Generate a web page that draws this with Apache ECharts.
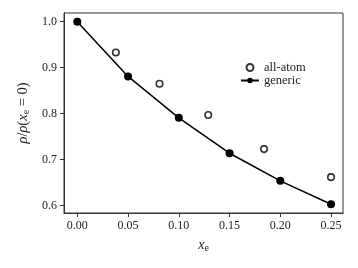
<!DOCTYPE html>
<html><head><meta charset="utf-8">
<script src="https://cdn.jsdelivr.net/npm/echarts@6/dist/echarts.min.js"></script>
<style>html,body{margin:0;padding:0;background:#fff}#c{width:358px;height:268px}</style>
</head><body><div id="c"></div>
<script>
const genericX = [0.00, 0.05, 0.10, 0.15, 0.20, 0.25];
const genericY = [1.000, 0.881, 0.791, 0.714, 0.654, 0.603];
const allAtomX = [0.038, 0.081, 0.129, 0.184, 0.250];
const allAtomY = [0.933, 0.865, 0.797, 0.723, 0.662];
const xTicks = [0.00, 0.05, 0.10, 0.15, 0.20, 0.25];
const yTicks = [0.6, 0.7, 0.8, 0.9, 1.0];

const F = 'Liberation Serif';
const chart = echarts.init(document.getElementById('c'), null, {renderer: 'canvas'});
chart.setOption({
  animation: false,
  backgroundColor: '#fff',
  grid: {left: 64, top: 13, right: 15, bottom: 55, show: true, borderColor: '#333', borderWidth: 1, backgroundColor: 'transparent'},
  xAxis: {
    type: 'value', min: -0.0131, max: 0.2618,
    axisLine: {show: true, onZero: false, lineStyle: {color: '#333', width: 1}},
    axisTick: {show: true, length: 4, lineStyle: {color: '#333'}, customValues: xTicks},
    axisLabel: {fontFamily: F, fontSize: 12, color: '#222', margin: 7, customValues: xTicks,
      formatter: v => v.toFixed(2)},
    splitLine: {show: false},
    name: '{i|x}{s|e}', nameLocation: 'middle', nameGap: 24,
    nameTextStyle: {rich: {
      i: {fontFamily: F, fontStyle: 'italic', fontSize: 14, color: '#222'},
      s: {fontFamily: F, fontSize: 10, color: '#222', verticalAlign: 'bottom', padding: [6, 0, 0, 0]}
    }}
  },
  yAxis: {
    type: 'value', min: 0.584, max: 1.019,
    axisLine: {show: true, onZero: false, lineStyle: {color: '#333', width: 1}},
    axisTick: {show: true, length: 4, lineStyle: {color: '#333'}, customValues: yTicks},
    axisLabel: {fontFamily: F, fontSize: 12, color: '#222', margin: 7, customValues: yTicks,
      formatter: v => v.toFixed(1)},
    splitLine: {show: false},
    name: '{i|ρ}{n|/}{i|ρ}{n|(}{i|x}{s|e}{n| = 0)}', nameLocation: 'middle', nameGap: 31, nameRotate: 90,
    nameTextStyle: {rich: {
      i: {fontFamily: F, fontStyle: 'italic', fontSize: 14.5, color: '#222'},
      n: {fontFamily: F, fontSize: 14.5, color: '#222'},
      s: {fontFamily: F, fontSize: 10, color: '#222', verticalAlign: 'bottom', padding: [6, 0, 0, 0]}
    }}
  },
  legend: {
    left: 235, top: 56, orient: 'vertical', itemGap: 0, itemWidth: 18, itemHeight: 7,
    textStyle: {fontFamily: F, fontSize: 12.5, color: '#222', lineHeight: 12},
    data: ['all-atom', 'generic']
  },
  series: [
    {name: 'all-atom', type: 'scatter', data: allAtomX.map((x, i) => [x, allAtomY[i]]),
     symbol: 'circle', symbolSize: 6.5,
     itemStyle: {color: '#fff', borderColor: '#000', borderWidth: 1.6}, z: 3},
    {name: 'generic', type: 'line', data: genericX.map((x, i) => [x, genericY[i]]),
     symbol: 'circle', symbolSize: 8, showSymbol: true, smooth: false,
     lineStyle: {color: '#000', width: 1.5}, itemStyle: {color: '#000', borderWidth: 0}, z: 4}
  ]
});
</script></body></html>
